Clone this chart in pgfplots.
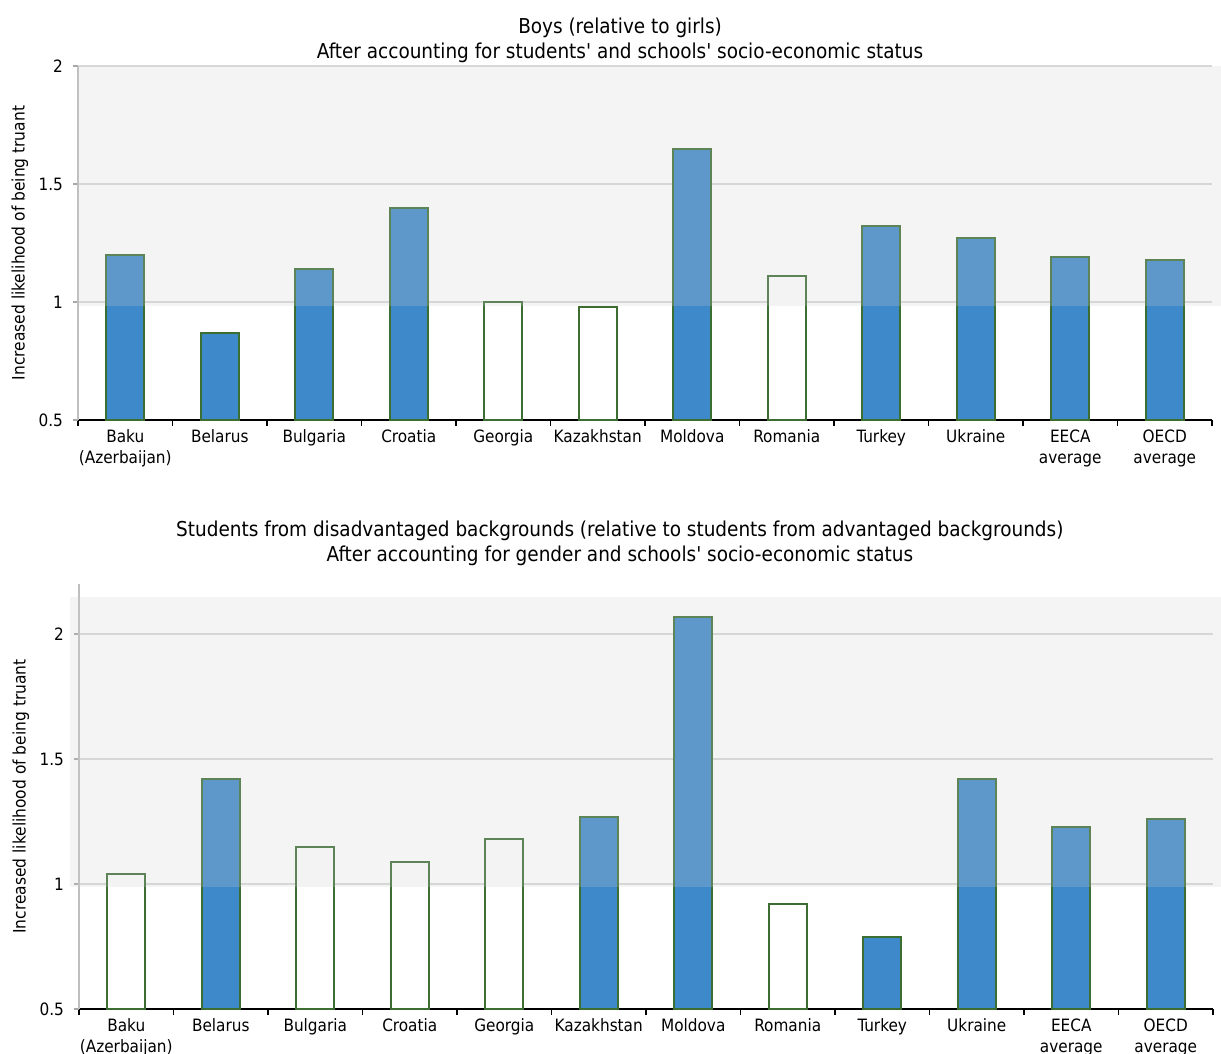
\documentclass[border=0pt]{standalone}
\usepackage{fontspec}
\setmainfont{DejaVu Sans Condensed}[Ligatures=TeXOff]
\usepackage{pgfplots}
\pgfplotsset{compat=1.18}
\definecolor{barblue}{RGB}{61,137,201}
\definecolor{barline}{RGB}{60,110,50}
\definecolor{bandgray}{RGB}{206,206,206}
\definecolor{gridc}{RGB}{217,217,217}
\definecolor{yax}{RGB}{191,191,191}
\newcommand{\cf}{\fontsize{8.5}{10.5}\selectfont}
\newcommand{\lf}{\fontsize{8.6}{10.5}\selectfont}
\newcommand{\tf}{\fontsize{10.25}{12}\selectfont}
\tikzset{band/.style={fill=bandgray, fill opacity=0.23, draw=none}}
\pgfplotsset{
 panel/.style={
  scale only axis, width=567pt, xmin=-0.5, xmax=11.5, ymin=0.5,
  axis x line*=bottom, axis y line*=left,
  x axis line style={draw=black, line width=0.75pt, -},
  y axis line style={draw=yax, line width=0.6pt, -},
  xtick={0,...,11},
  xticklabels={{Baku\\(Azerbaijan)},Belarus,Bulgaria,Croatia,Georgia,Kazakhstan,Moldova,Romania,Turkey,Ukraine,{EECA\\average},{OECD\\average}},
  minor xtick={-0.5,0.5,...,11.5},
  major x tick style={draw=none},
  minor x tick style={draw=black, line width=0.6pt},
  major y tick style={draw=gray!70, line width=0.6pt, xshift=-2.5pt},
  tick align=inside,
  major tick length=2.5pt,
  minor tick length=3pt,
  ymajorgrids, major grid style={draw=gridc, line width=0.6pt},
  xticklabel style={align=center, font=\cf, yshift=1pt},
  yticklabel style={font=\cf, xshift=-4pt},
  /pgf/number format/assume math mode=true,
  ylabel={Increased likelihood of being truant},
  ylabel style={font=\lf, at={(axis description cs:-0.0512,0.5)}, anchor=center},
  ybar, bar width=0.4, bar shift=0pt,
  clip mode=individual,
 },
 filled/.style={fill=barblue, draw=barline, line width=1pt},
 empty/.style={fill=white, draw=barline, line width=1pt},
}
\begin{document}
\begin{tikzpicture}
\useasboundingbox (0,0) rectangle (610.5pt,-527pt);
% ---------- top panel ----------
\begin{axis}[panel, at={(39pt,-210pt)}, anchor=south west, height=177pt, ymax=2,
  ytick={0.5,1,1.5,2}, yticklabels={0.5,1,1.5,2}]
\addplot[filled] coordinates {(0,1.20) (1,0.87) (2,1.14) (3,1.40) (6,1.65) (8,1.32) (9,1.27) (10,1.19) (11,1.18)};
\addplot[empty] coordinates {(4,1.00) (5,0.98) (7,1.11)};
\fill[band] (axis cs:-0.5,0.983) rectangle (axis cs:11.595,2);
\node[anchor=base, font=\tf, yshift=16.25pt] at (rel axis cs:0.478,1) {Boys (relative to girls)};
\node[anchor=base, font=\tf, yshift=3.75pt] at (rel axis cs:0.478,1) {After accounting for students' and schools' socio-economic status};
\end{axis}
% ---------- bottom panel ----------
\begin{axis}[panel, at={(39.5pt,-504.5pt)}, anchor=south west, height=212.5pt, ymax=2.2,
  ytick={0.5,1,1.5,2}, yticklabels={0.5,1,1.5,2}]
\addplot[filled] coordinates {(1,1.42) (5,1.27) (6,2.07) (8,0.79) (9,1.42) (10,1.23) (11,1.26)};
\addplot[empty] coordinates {(0,1.04) (2,1.15) (3,1.09) (4,1.18) (7,0.92)};
\fill[band] (axis cs:-0.595,0.989) rectangle (axis cs:11.595,2.148);
\node[anchor=base, font=\tf, yshift=23.75pt] at (rel axis cs:0.477,1) {Students from disadvantaged backgrounds (relative to students from advantaged backgrounds)};
\node[anchor=base, font=\tf, yshift=11.25pt] at (rel axis cs:0.477,1) {After accounting for gender and schools' socio-economic status};
\end{axis}
\end{tikzpicture}
\end{document}
